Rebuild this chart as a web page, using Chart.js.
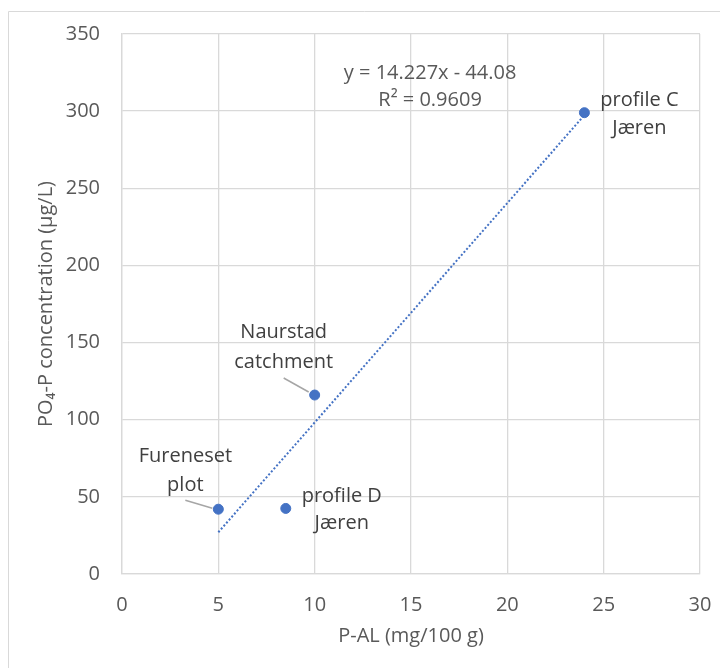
<!DOCTYPE html>
<html>
<head>
<meta charset="utf-8">
<script src="https://cdn.jsdelivr.net/npm/chart.js@4"></script>
<style>
  html, body { margin: 0; padding: 0; background: #fff; overflow: hidden; }
  #wrap { width: 720px; height: 668px; position: relative; }
  canvas { display: block; }
</style>
</head>
<body>
<div id="wrap"><canvas id="chart"></canvas></div>
<script>
// P-AL in soil vs dissolved PO4-P
const pAL = [5, 8.5, 10, 24]
const po4P = [42, 42.5, 116, 299]
const siteNames = [
  ["Fureneset", "plot"],
  ["profile D", "Jæren"],
  ["Naurstad", "catchment"],
  ["profile C", "Jæren"]
]
const trendSlope = 14.227
const trendIntercept = -44.08
const trendR2 = 0.9609
const trendFrom = 5
const trendTo = 24

const FONT = "'Open Sans', 'DejaVu Sans', sans-serif"
const GRID = "#d9d9d9"
const BLUE = "#4472c4"

// label placement around each point: dx, dy per line, leader line or null
const labelOffsets = [
  { dx: -33, dy: [-53, -24], leader: [-33, -9, -6, -1] },
  { dx: 56, dy: [-12, 15], leader: null },
  { dx: -31, dy: [-63, -33], leader: [-31, -17, -6, -3] },
  { dx: 55, dy: [-12, 16], leader: null }
]

const trendPoints = [trendFrom, trendTo].map(x => ({ x, y: trendSlope * x + trendIntercept }))

const fmt = v => v.toString()

const frame = {
  id: "frame",
  beforeDraw(chart) {
    const ctx = chart.ctx
    ctx.save()
    ctx.strokeStyle = GRID
    ctx.lineWidth = 1
    ctx.beginPath()
    ctx.moveTo(8.5, 700)
    ctx.lineTo(8.5, 11.5)
    ctx.lineTo(730, 11.5)
    ctx.stroke()
    ctx.restore()
  }
}

const siteLabels = {
  id: "siteLabels",
  afterDatasetsDraw(chart) {
    const ctx = chart.ctx
    const meta = chart.getDatasetMeta(1)
    ctx.save()
    ctx.font = `20px ${FONT}`
    ctx.textAlign = "center"
    ctx.textBaseline = "middle"
    meta.data.forEach((pt, i) => {
      const o = labelOffsets[i]
      ctx.fillStyle = "#404040"
      siteNames[i].forEach((line, j) => {
        ctx.fillText(line, pt.x + o.dx, pt.y + o.dy[j])
      })
      if (o.leader) {
        ctx.strokeStyle = "#a6a6a6"
        ctx.lineWidth = 1.5
        ctx.beginPath()
        ctx.moveTo(pt.x + o.leader[0], pt.y + o.leader[1])
        ctx.lineTo(pt.x + o.leader[2], pt.y + o.leader[3])
        ctx.stroke()
      }
    })

    // trendline equation
    const a = chart.chartArea
    const cx = a.left + (a.right - a.left) * 0.533
    ctx.fillStyle = "#595959"
    const sign = trendIntercept < 0 ? "-" : "+"
    ctx.fillText(`y = ${trendSlope}x ${sign} ${Math.abs(trendIntercept)}`, cx, 73)
    ctx.fillText(`R² = ${trendR2}`, cx, 100)
    ctx.restore()
  }
}

new Chart(document.getElementById("chart"), {
  type: "scatter",
  data: {
    datasets: [
      {
        label: "trend",
        data: trendPoints,
        showLine: true,
        borderColor: BLUE,
        borderWidth: 2,
        borderDash: [2, 2],
        pointRadius: 0,
        fill: false
      },
      {
        label: "sites",
        data: pAL.map((x, i) => ({ x, y: po4P[i] })),
        backgroundColor: BLUE,
        borderColor: BLUE,
        pointRadius: 5,
        pointHoverRadius: 5
      }
    ]
  },
  options: {
    responsive: true,
    maintainAspectRatio: false,
    animation: false,
    layout: { padding: { left: 30, top: 34, right: 20, bottom: 16 } },
    plugins: {
      legend: { display: false },
      tooltip: { enabled: false }
    },
    scales: {
      x: {
        type: "linear",
        min: 0,
        max: 30,
        ticks: { stepSize: 5, padding: 19, color: "#595959", font: { family: FONT, size: 20 }, callback: fmt },
        grid: { color: GRID, lineWidth: 1.3, drawTicks: false },
        border: { color: GRID, width: 1.3 },
        title: { display: true, text: "P-AL (mg/100 g)", color: "#595959", font: { family: FONT, size: 20 }, padding: { top: 4 } },
        afterFit: s => {
          s.height = 78
          s.paddingLeft = 0
          s.paddingRight = 0
        }
      },
      y: {
        min: 0,
        max: 350,
        ticks: { stepSize: 50, padding: 22, color: "#595959", font: { family: FONT, size: 20 }, callback: fmt },
        grid: { color: GRID, lineWidth: 1.3, drawTicks: false },
        border: { color: GRID, width: 1.3 },
        title: { display: true, text: "PO₄-P concentration (µg/L)", color: "#595959", font: { family: FONT, size: 20 }, padding: { bottom: 10 } },
        afterFit: s => {
          s.width = 92
          s.paddingTop = 0
          s.paddingBottom = 0
        }
      }
    }
  },
  plugins: [frame, siteLabels]
})
</script>
</body>
</html>
